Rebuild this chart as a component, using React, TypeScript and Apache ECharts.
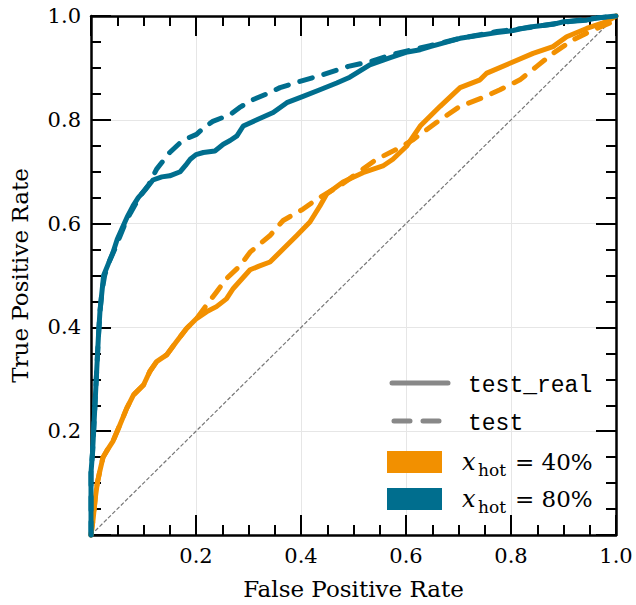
import React, { useEffect, useRef } from "react";
import * as echarts from "echarts";

// ROC curves: [false positive rate, true positive rate]
const hot80Real: number[][] = [
  [0, 0], [0, 0.12], [0.003, 0.16], [0.005, 0.2], [0.008, 0.26], [0.011, 0.32], [0.014, 0.38],
  [0.017, 0.43], [0.02, 0.46], [0.024, 0.5], [0.032, 0.52], [0.042, 0.545], [0.05, 0.57],
  [0.061, 0.595], [0.07, 0.615], [0.08, 0.634], [0.09, 0.65], [0.103, 0.665], [0.118, 0.684],
  [0.135, 0.69], [0.15, 0.692], [0.17, 0.7], [0.18, 0.712], [0.189, 0.724], [0.2, 0.733],
  [0.214, 0.737], [0.236, 0.74], [0.252, 0.753], [0.265, 0.76], [0.278, 0.769], [0.29, 0.788],
  [0.316, 0.8], [0.347, 0.814], [0.373, 0.833], [0.404, 0.845], [0.436, 0.858], [0.468, 0.871],
  [0.493, 0.882], [0.531, 0.906], [0.57, 0.92], [0.6, 0.93], [0.627, 0.935], [0.646, 0.941],
  [0.703, 0.957], [0.773, 0.968], [0.804, 0.972], [0.836, 0.979], [0.88, 0.984], [0.9, 0.989],
  [0.944, 0.992], [0.963, 0.996], [1, 1],
];
const hot80Test: number[][] = [
  [0, 0], [0, 0.12], [0.003, 0.16], [0.005, 0.2], [0.008, 0.26], [0.011, 0.32], [0.014, 0.38],
  [0.017, 0.43], [0.021, 0.47], [0.026, 0.5], [0.034, 0.525], [0.045, 0.55], [0.055, 0.575],
  [0.065, 0.6], [0.075, 0.62], [0.085, 0.638], [0.095, 0.655], [0.11, 0.675], [0.125, 0.705],
  [0.15, 0.737], [0.17, 0.756], [0.185, 0.765], [0.201, 0.772], [0.215, 0.785], [0.232, 0.797],
  [0.265, 0.81], [0.285, 0.825], [0.309, 0.839], [0.335, 0.85], [0.36, 0.862], [0.398, 0.874],
  [0.442, 0.887], [0.49, 0.903], [0.531, 0.912], [0.582, 0.928], [0.62, 0.937], [0.646, 0.943],
  [0.703, 0.957], [0.773, 0.97], [0.836, 0.978], [0.9, 0.988], [0.963, 0.996], [1, 1],
];
const hot40Real: number[][] = [
  [0, 0], [0.004, 0.03], [0.008, 0.07], [0.012, 0.1], [0.017, 0.124], [0.023, 0.15], [0.03, 0.162],
  [0.042, 0.181], [0.055, 0.212], [0.068, 0.244], [0.081, 0.27], [0.1, 0.289], [0.112, 0.315],
  [0.125, 0.334], [0.144, 0.347], [0.163, 0.373], [0.182, 0.398], [0.201, 0.417], [0.22, 0.43],
  [0.239, 0.44], [0.258, 0.455], [0.271, 0.475], [0.303, 0.511], [0.32, 0.518], [0.341, 0.526],
  [0.366, 0.551], [0.392, 0.577], [0.417, 0.603], [0.436, 0.634], [0.449, 0.657], [0.48, 0.68],
  [0.518, 0.698], [0.556, 0.711], [0.575, 0.724], [0.601, 0.749], [0.627, 0.788], [0.665, 0.826],
  [0.703, 0.862], [0.741, 0.877], [0.754, 0.89], [0.798, 0.909], [0.842, 0.928], [0.88, 0.941],
  [0.906, 0.96], [0.944, 0.976], [0.982, 0.989], [1, 1],
];
const hot40Test: number[][] = [
  [0, 0], [0.004, 0.03], [0.008, 0.07], [0.012, 0.1], [0.017, 0.124], [0.023, 0.15], [0.03, 0.162],
  [0.042, 0.181], [0.055, 0.212], [0.068, 0.244], [0.081, 0.27], [0.1, 0.289], [0.112, 0.315],
  [0.125, 0.334], [0.144, 0.347], [0.163, 0.373], [0.182, 0.398], [0.201, 0.417], [0.22, 0.443],
  [0.239, 0.468], [0.258, 0.494], [0.284, 0.519], [0.303, 0.545], [0.341, 0.577], [0.366, 0.606],
  [0.404, 0.628], [0.43, 0.647], [0.474, 0.673], [0.518, 0.705], [0.544, 0.724], [0.582, 0.743],
  [0.614, 0.762], [0.627, 0.772], [0.665, 0.8], [0.703, 0.826], [0.747, 0.843], [0.779, 0.858],
  [0.817, 0.877], [0.849, 0.903], [0.88, 0.928], [0.918, 0.954], [0.956, 0.973], [0.994, 0.989],
  [1, 1],
];
const chanceLine: number[][] = [[0, 0], [1, 1]];

const legendLineNames = ["test_real", "test"];
const legendHotValues = ["40%", "80%"];

const ORANGE = "#F29000";
const TEAL = "#006E8E";
const GREY = "#888888";
const SERIF = "'DejaVu Serif', serif";
const MONO = "'Liberation Mono', monospace";

export default function App() {
  const ref = useRef<HTMLDivElement>(null);

  useEffect(() => {
    const chart = echarts.init(ref.current!, null, { renderer: "svg" });

    const axisBase = (position: string, main: boolean) => ({
      type: "value",
      min: 0,
      max: 1,
      interval: 0.2,
      position,
      axisLine: { show: true, onZero: false, lineStyle: { color: "#000", width: 2.5 } },
      axisTick: { show: true, inside: true, length: 20, lineStyle: { color: "#000", width: 2 } },
      minorTick: { show: true, splitNumber: 4, length: 10, lineStyle: { color: "#000", width: 2 } },
      splitLine: { show: main, lineStyle: { color: "#e6e6e6", width: 1 } },
      axisLabel: main
        ? {
            show: true,
            fontFamily: SERIF,
            fontSize: 21,
            color: "#000",
            margin: 10,
            showMaxLabel: true,
            formatter: (v: number) => (v === 0 ? "" : v.toFixed(1)),
          }
        : { show: false },
    });

    const curve = (name: string, data: number[][], color: string, dashed: boolean) => ({
      type: "line",
      name,
      data,
      xAxisIndex: 0,
      yAxisIndex: 0,
      showSymbol: false,
      symbol: "none",
      clip: false,
      z: 3,
      lineStyle: {
        color,
        width: 5,
        type: dashed ? [13, 12] : "solid",
        cap: "round",
        join: "round",
      },
    });

    const legendTextRows = [383, 421];
    const patchRows = [462, 499];
    const patchColors = [ORANGE, TEAL];

    const graphic: any[] = [];
    legendLineNames.forEach((name, i) => {
      graphic.push({
        type: "line",
        z: 50,
        shape: { x1: i === 0 ? 392 : 394, y1: legendTextRows[i], x2: i === 0 ? 448 : 447, y2: legendTextRows[i] },
        style: { stroke: GREY, lineWidth: 5, lineCap: "round", lineDash: i === 0 ? null : [16, 13] },
      });
      graphic.push({
        type: "text",
        z: 50,
        x: 468,
        y: legendTextRows[i] + 3,
        style: { text: name, fontFamily: MONO, fontSize: 23, fill: "#000", verticalAlign: "middle" },
      });
    });
    legendHotValues.forEach((val, i) => {
      const cy = patchRows[i];
      graphic.push({
        type: "rect",
        z: 50,
        shape: { x: 387, y: cy - 11, width: 55, height: 22 },
        style: { fill: patchColors[i] },
      });
      graphic.push({
        type: "text",
        z: 50,
        x: 462,
        y: cy,
        style: { text: "x", fontFamily: SERIF, fontStyle: "italic", fontSize: 24, fill: "#000", verticalAlign: "middle" },
      });
      graphic.push({
        type: "text",
        z: 50,
        x: 478,
        y: cy + 8,
        style: { text: "hot", fontFamily: SERIF, fontSize: 17, fill: "#000", verticalAlign: "middle" },
      });
      graphic.push({
        type: "text",
        z: 50,
        x: 515,
        y: cy,
        style: { text: "= " + val, fontFamily: SERIF, fontSize: 23, fill: "#000", verticalAlign: "middle" },
      });
    });

    chart.setOption({
      animation: false,
      backgroundColor: "#fff",
      grid: { left: 91, right: 20, top: 16, bottom: 67.5, containLabel: false },
      xAxis: [
        {
          ...axisBase("bottom", true),
          name: "False Positive Rate",
          nameLocation: "middle",
          nameGap: 42,
          nameTextStyle: { fontFamily: SERIF, fontSize: 23, color: "#000" },
        },
        axisBase("top", false),
      ],
      yAxis: [
        {
          ...axisBase("left", true),
          name: "True Positive Rate",
          nameLocation: "middle",
          nameGap: 60,
          nameTextStyle: { fontFamily: SERIF, fontSize: 23, color: "#000" },
        },
        axisBase("right", false),
      ],
      series: [
        {
          type: "line",
          name: "chance",
          data: chanceLine,
          showSymbol: false,
          symbol: "none",
          z: 2,
          lineStyle: { color: "#777777", width: 1.2, type: [4, 2] },
        },
        curve("x_hot = 40% test_real", hot40Real, ORANGE, false),
        curve("x_hot = 40% test", hot40Test, ORANGE, true),
        curve("x_hot = 80% test_real", hot80Real, TEAL, false),
        curve("x_hot = 80% test", hot80Test, TEAL, true),
      ],
      graphic,
    });

    return () => chart.dispose();
  }, []);

  return (
    <div
      ref={ref}
      style={{ position: "fixed", left: 0, top: 0, width: 636, height: 605, background: "#fff" }}
    />
  );
}
